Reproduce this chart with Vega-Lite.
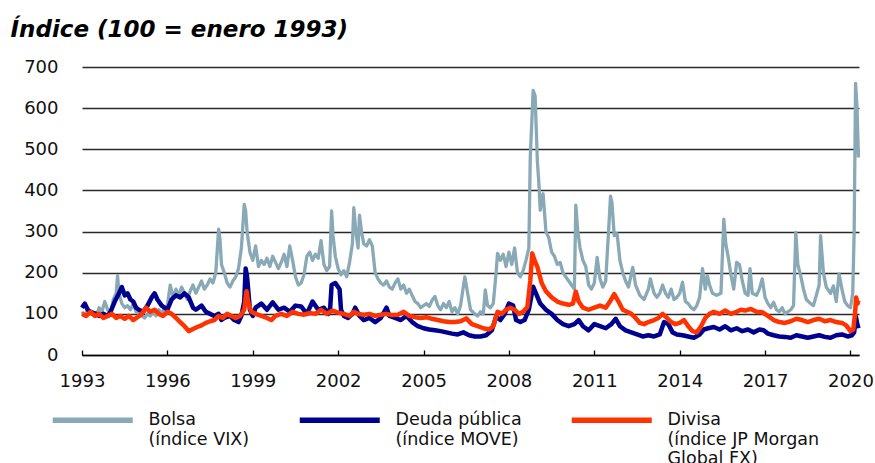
{
  "$schema": "https://vega.github.io/schema/vega-lite/v6.json",
  "autosize": {"type": "none"},
  "width": 777,
  "height": 288,
  "padding": {"left": 82, "top": 67, "right": 16, "bottom": 108},
  "background": "#ffffff",
  "config": {
    "view": {"stroke": null},
    "axis": {"labelFont": "DejaVu Sans", "labelFontSize": 18, "labelColor": "#111111"}
  },
  "datasets": {
    "d": [
      {"s":"Bolsa","t":1993.0,"v":105},{"s":"Bolsa","t":1993.1,"v":95},{"s":"Bolsa","t":1993.2,"v":110},{"s":"Bolsa","t":1993.35,"v":100},{"s":"Bolsa","t":1993.5,"v":95},{"s":"Bolsa","t":1993.6,"v":115},{"s":"Bolsa","t":1993.7,"v":105},{"s":"Bolsa","t":1993.8,"v":130},{"s":"Bolsa","t":1993.9,"v":110},
      {"s":"Bolsa","t":1994.0,"v":100},{"s":"Bolsa","t":1994.1,"v":135},{"s":"Bolsa","t":1994.2,"v":150},{"s":"Bolsa","t":1994.25,"v":193},{"s":"Bolsa","t":1994.3,"v":150},{"s":"Bolsa","t":1994.4,"v":125},{"s":"Bolsa","t":1994.5,"v":115},{"s":"Bolsa","t":1994.6,"v":120},{"s":"Bolsa","t":1994.7,"v":110},{"s":"Bolsa","t":1994.8,"v":125},{"s":"Bolsa","t":1994.9,"v":105},
      {"s":"Bolsa","t":1995.0,"v":100},{"s":"Bolsa","t":1995.1,"v":95},{"s":"Bolsa","t":1995.2,"v":90},{"s":"Bolsa","t":1995.3,"v":100},{"s":"Bolsa","t":1995.4,"v":95},{"s":"Bolsa","t":1995.5,"v":105},{"s":"Bolsa","t":1995.6,"v":95},{"s":"Bolsa","t":1995.7,"v":110},{"s":"Bolsa","t":1995.8,"v":100},{"s":"Bolsa","t":1995.9,"v":115},
      {"s":"Bolsa","t":1996.0,"v":120},{"s":"Bolsa","t":1996.1,"v":170},{"s":"Bolsa","t":1996.2,"v":140},{"s":"Bolsa","t":1996.3,"v":160},{"s":"Bolsa","t":1996.4,"v":145},{"s":"Bolsa","t":1996.5,"v":165},{"s":"Bolsa","t":1996.6,"v":150},{"s":"Bolsa","t":1996.7,"v":135},{"s":"Bolsa","t":1996.8,"v":155},{"s":"Bolsa","t":1996.9,"v":170},
      {"s":"Bolsa","t":1997.0,"v":150},{"s":"Bolsa","t":1997.1,"v":165},{"s":"Bolsa","t":1997.2,"v":180},{"s":"Bolsa","t":1997.3,"v":160},{"s":"Bolsa","t":1997.4,"v":170},{"s":"Bolsa","t":1997.5,"v":185},{"s":"Bolsa","t":1997.6,"v":175},{"s":"Bolsa","t":1997.7,"v":200},{"s":"Bolsa","t":1997.8,"v":306},{"s":"Bolsa","t":1997.85,"v":280},{"s":"Bolsa","t":1997.9,"v":220},
      {"s":"Bolsa","t":1998.0,"v":200},{"s":"Bolsa","t":1998.1,"v":175},{"s":"Bolsa","t":1998.2,"v":165},{"s":"Bolsa","t":1998.3,"v":180},{"s":"Bolsa","t":1998.4,"v":190},{"s":"Bolsa","t":1998.5,"v":210},{"s":"Bolsa","t":1998.6,"v":260},{"s":"Bolsa","t":1998.7,"v":366},{"s":"Bolsa","t":1998.75,"v":350},{"s":"Bolsa","t":1998.8,"v":300},{"s":"Bolsa","t":1998.9,"v":250},
      {"s":"Bolsa","t":1999.0,"v":230},{"s":"Bolsa","t":1999.1,"v":265},{"s":"Bolsa","t":1999.2,"v":215},{"s":"Bolsa","t":1999.3,"v":230},{"s":"Bolsa","t":1999.4,"v":220},{"s":"Bolsa","t":1999.5,"v":235},{"s":"Bolsa","t":1999.6,"v":215},{"s":"Bolsa","t":1999.7,"v":240},{"s":"Bolsa","t":1999.8,"v":225},{"s":"Bolsa","t":1999.9,"v":210},
      {"s":"Bolsa","t":2000.0,"v":225},{"s":"Bolsa","t":2000.1,"v":245},{"s":"Bolsa","t":2000.2,"v":215},{"s":"Bolsa","t":2000.3,"v":265},{"s":"Bolsa","t":2000.4,"v":230},{"s":"Bolsa","t":2000.5,"v":190},{"s":"Bolsa","t":2000.6,"v":170},{"s":"Bolsa","t":2000.7,"v":175},{"s":"Bolsa","t":2000.8,"v":195},{"s":"Bolsa","t":2000.9,"v":240},
      {"s":"Bolsa","t":2001.0,"v":250},{"s":"Bolsa","t":2001.1,"v":230},{"s":"Bolsa","t":2001.2,"v":245},{"s":"Bolsa","t":2001.3,"v":235},{"s":"Bolsa","t":2001.4,"v":278},{"s":"Bolsa","t":2001.5,"v":220},{"s":"Bolsa","t":2001.6,"v":205},{"s":"Bolsa","t":2001.7,"v":215},{"s":"Bolsa","t":2001.77,"v":350},{"s":"Bolsa","t":2001.82,"v":290},{"s":"Bolsa","t":2001.9,"v":240},
      {"s":"Bolsa","t":2002.0,"v":210},{"s":"Bolsa","t":2002.1,"v":195},{"s":"Bolsa","t":2002.2,"v":205},{"s":"Bolsa","t":2002.3,"v":190},{"s":"Bolsa","t":2002.4,"v":225},{"s":"Bolsa","t":2002.5,"v":270},{"s":"Bolsa","t":2002.55,"v":358},{"s":"Bolsa","t":2002.62,"v":300},{"s":"Bolsa","t":2002.7,"v":260},{"s":"Bolsa","t":2002.75,"v":340},{"s":"Bolsa","t":2002.82,"v":300},{"s":"Bolsa","t":2002.9,"v":270},
      {"s":"Bolsa","t":2003.0,"v":265},{"s":"Bolsa","t":2003.1,"v":280},{"s":"Bolsa","t":2003.2,"v":265},{"s":"Bolsa","t":2003.3,"v":200},{"s":"Bolsa","t":2003.4,"v":185},{"s":"Bolsa","t":2003.5,"v":175},{"s":"Bolsa","t":2003.6,"v":170},{"s":"Bolsa","t":2003.7,"v":180},{"s":"Bolsa","t":2003.8,"v":165},{"s":"Bolsa","t":2003.9,"v":160},
      {"s":"Bolsa","t":2004.0,"v":175},{"s":"Bolsa","t":2004.1,"v":185},{"s":"Bolsa","t":2004.2,"v":160},{"s":"Bolsa","t":2004.3,"v":170},{"s":"Bolsa","t":2004.4,"v":150},{"s":"Bolsa","t":2004.5,"v":160},{"s":"Bolsa","t":2004.6,"v":145},{"s":"Bolsa","t":2004.7,"v":130},{"s":"Bolsa","t":2004.8,"v":125},{"s":"Bolsa","t":2004.9,"v":115},
      {"s":"Bolsa","t":2005.0,"v":120},{"s":"Bolsa","t":2005.1,"v":125},{"s":"Bolsa","t":2005.2,"v":118},{"s":"Bolsa","t":2005.3,"v":133},{"s":"Bolsa","t":2005.4,"v":142},{"s":"Bolsa","t":2005.5,"v":120},{"s":"Bolsa","t":2005.6,"v":110},{"s":"Bolsa","t":2005.7,"v":125},{"s":"Bolsa","t":2005.8,"v":115},{"s":"Bolsa","t":2005.9,"v":130},
      {"s":"Bolsa","t":2006.0,"v":105},{"s":"Bolsa","t":2006.1,"v":115},{"s":"Bolsa","t":2006.2,"v":100},{"s":"Bolsa","t":2006.3,"v":120},{"s":"Bolsa","t":2006.45,"v":190},{"s":"Bolsa","t":2006.55,"v":150},{"s":"Bolsa","t":2006.65,"v":110},{"s":"Bolsa","t":2006.8,"v":100},{"s":"Bolsa","t":2006.9,"v":95},
      {"s":"Bolsa","t":2007.0,"v":105},{"s":"Bolsa","t":2007.1,"v":100},{"s":"Bolsa","t":2007.17,"v":158},{"s":"Bolsa","t":2007.25,"v":120},{"s":"Bolsa","t":2007.35,"v":115},{"s":"Bolsa","t":2007.45,"v":125},{"s":"Bolsa","t":2007.55,"v":200},{"s":"Bolsa","t":2007.6,"v":247},{"s":"Bolsa","t":2007.7,"v":230},{"s":"Bolsa","t":2007.8,"v":245},{"s":"Bolsa","t":2007.9,"v":215},
      {"s":"Bolsa","t":2008.0,"v":250},{"s":"Bolsa","t":2008.1,"v":220},{"s":"Bolsa","t":2008.2,"v":260},{"s":"Bolsa","t":2008.3,"v":200},{"s":"Bolsa","t":2008.4,"v":190},{"s":"Bolsa","t":2008.5,"v":205},{"s":"Bolsa","t":2008.6,"v":230},{"s":"Bolsa","t":2008.7,"v":260},{"s":"Bolsa","t":2008.75,"v":480},{"s":"Bolsa","t":2008.8,"v":560},{"s":"Bolsa","t":2008.85,"v":643},{"s":"Bolsa","t":2008.92,"v":630},
      {"s":"Bolsa","t":2009.0,"v":470},{"s":"Bolsa","t":2009.05,"v":420},{"s":"Bolsa","t":2009.1,"v":352},{"s":"Bolsa","t":2009.15,"v":380},{"s":"Bolsa","t":2009.2,"v":392},{"s":"Bolsa","t":2009.3,"v":300},{"s":"Bolsa","t":2009.4,"v":285},{"s":"Bolsa","t":2009.5,"v":250},{"s":"Bolsa","t":2009.6,"v":240},{"s":"Bolsa","t":2009.7,"v":220},{"s":"Bolsa","t":2009.8,"v":225},{"s":"Bolsa","t":2009.9,"v":200},
      {"s":"Bolsa","t":2010.0,"v":190},{"s":"Bolsa","t":2010.1,"v":180},{"s":"Bolsa","t":2010.2,"v":170},{"s":"Bolsa","t":2010.3,"v":160},{"s":"Bolsa","t":2010.35,"v":364},{"s":"Bolsa","t":2010.42,"v":300},{"s":"Bolsa","t":2010.5,"v":260},{"s":"Bolsa","t":2010.6,"v":230},{"s":"Bolsa","t":2010.7,"v":215},{"s":"Bolsa","t":2010.8,"v":170},{"s":"Bolsa","t":2010.9,"v":160},
      {"s":"Bolsa","t":2011.0,"v":175},{"s":"Bolsa","t":2011.1,"v":237},{"s":"Bolsa","t":2011.2,"v":185},{"s":"Bolsa","t":2011.3,"v":165},{"s":"Bolsa","t":2011.4,"v":180},{"s":"Bolsa","t":2011.5,"v":300},{"s":"Bolsa","t":2011.57,"v":386},{"s":"Bolsa","t":2011.62,"v":370},{"s":"Bolsa","t":2011.7,"v":290},{"s":"Bolsa","t":2011.8,"v":295},{"s":"Bolsa","t":2011.9,"v":230},
      {"s":"Bolsa","t":2012.0,"v":200},{"s":"Bolsa","t":2012.1,"v":180},{"s":"Bolsa","t":2012.2,"v":165},{"s":"Bolsa","t":2012.35,"v":213},{"s":"Bolsa","t":2012.45,"v":170},{"s":"Bolsa","t":2012.6,"v":145},{"s":"Bolsa","t":2012.75,"v":135},{"s":"Bolsa","t":2012.9,"v":160},{"s":"Bolsa","t":2012.97,"v":185},
      {"s":"Bolsa","t":2013.1,"v":150},{"s":"Bolsa","t":2013.2,"v":140},{"s":"Bolsa","t":2013.3,"v":150},{"s":"Bolsa","t":2013.4,"v":170},{"s":"Bolsa","t":2013.5,"v":150},{"s":"Bolsa","t":2013.6,"v":140},{"s":"Bolsa","t":2013.7,"v":160},{"s":"Bolsa","t":2013.8,"v":135},{"s":"Bolsa","t":2013.9,"v":140},
      {"s":"Bolsa","t":2014.0,"v":150},{"s":"Bolsa","t":2014.1,"v":177},{"s":"Bolsa","t":2014.2,"v":130},{"s":"Bolsa","t":2014.3,"v":125},{"s":"Bolsa","t":2014.4,"v":115},{"s":"Bolsa","t":2014.5,"v":110},{"s":"Bolsa","t":2014.6,"v":120},{"s":"Bolsa","t":2014.7,"v":140},{"s":"Bolsa","t":2014.8,"v":210},{"s":"Bolsa","t":2014.9,"v":160},{"s":"Bolsa","t":2014.97,"v":193},
      {"s":"Bolsa","t":2015.05,"v":170},{"s":"Bolsa","t":2015.15,"v":150},{"s":"Bolsa","t":2015.3,"v":145},{"s":"Bolsa","t":2015.45,"v":150},{"s":"Bolsa","t":2015.55,"v":330},{"s":"Bolsa","t":2015.62,"v":270},{"s":"Bolsa","t":2015.7,"v":240},{"s":"Bolsa","t":2015.8,"v":195},{"s":"Bolsa","t":2015.9,"v":160},
      {"s":"Bolsa","t":2016.0,"v":225},{"s":"Bolsa","t":2016.1,"v":220},{"s":"Bolsa","t":2016.2,"v":180},{"s":"Bolsa","t":2016.3,"v":150},{"s":"Bolsa","t":2016.4,"v":145},{"s":"Bolsa","t":2016.47,"v":210},{"s":"Bolsa","t":2016.55,"v":150},{"s":"Bolsa","t":2016.7,"v":145},{"s":"Bolsa","t":2016.8,"v":160},{"s":"Bolsa","t":2016.9,"v":185},
      {"s":"Bolsa","t":2017.0,"v":140},{"s":"Bolsa","t":2017.1,"v":125},{"s":"Bolsa","t":2017.2,"v":115},{"s":"Bolsa","t":2017.3,"v":128},{"s":"Bolsa","t":2017.4,"v":110},{"s":"Bolsa","t":2017.5,"v":105},{"s":"Bolsa","t":2017.6,"v":115},{"s":"Bolsa","t":2017.7,"v":100},{"s":"Bolsa","t":2017.8,"v":105},{"s":"Bolsa","t":2017.9,"v":110},
      {"s":"Bolsa","t":2018.0,"v":120},{"s":"Bolsa","t":2018.08,"v":298},{"s":"Bolsa","t":2018.15,"v":220},{"s":"Bolsa","t":2018.25,"v":193},{"s":"Bolsa","t":2018.35,"v":160},{"s":"Bolsa","t":2018.45,"v":135},{"s":"Bolsa","t":2018.6,"v":125},{"s":"Bolsa","t":2018.7,"v":120},{"s":"Bolsa","t":2018.8,"v":145},{"s":"Bolsa","t":2018.9,"v":170},{"s":"Bolsa","t":2018.95,"v":290},
      {"s":"Bolsa","t":2019.05,"v":200},{"s":"Bolsa","t":2019.15,"v":165},{"s":"Bolsa","t":2019.3,"v":150},{"s":"Bolsa","t":2019.4,"v":168},{"s":"Bolsa","t":2019.5,"v":130},{"s":"Bolsa","t":2019.6,"v":197},{"s":"Bolsa","t":2019.7,"v":160},{"s":"Bolsa","t":2019.8,"v":130},{"s":"Bolsa","t":2019.9,"v":120},
      {"s":"Bolsa","t":2020.0,"v":115},{"s":"Bolsa","t":2020.08,"v":150},{"s":"Bolsa","t":2020.13,"v":300},{"s":"Bolsa","t":2020.18,"v":660},{"s":"Bolsa","t":2020.23,"v":600},{"s":"Bolsa","t":2020.28,"v":480},

      {"s":"Deuda pública","t":1993.0,"v":115},{"s":"Deuda pública","t":1993.1,"v":125},{"s":"Deuda pública","t":1993.2,"v":110},{"s":"Deuda pública","t":1993.3,"v":105},{"s":"Deuda pública","t":1993.5,"v":100},{"s":"Deuda pública","t":1993.6,"v":95},{"s":"Deuda pública","t":1993.75,"v":100},{"s":"Deuda pública","t":1993.9,"v":95},
      {"s":"Deuda pública","t":1994.0,"v":105},{"s":"Deuda pública","t":1994.15,"v":130},{"s":"Deuda pública","t":1994.3,"v":150},{"s":"Deuda pública","t":1994.4,"v":165},{"s":"Deuda pública","t":1994.5,"v":145},{"s":"Deuda pública","t":1994.6,"v":150},{"s":"Deuda pública","t":1994.7,"v":135},{"s":"Deuda pública","t":1994.8,"v":130},{"s":"Deuda pública","t":1994.9,"v":115},
      {"s":"Deuda pública","t":1995.0,"v":110},{"s":"Deuda pública","t":1995.15,"v":105},{"s":"Deuda pública","t":1995.3,"v":120},{"s":"Deuda pública","t":1995.45,"v":140},{"s":"Deuda pública","t":1995.55,"v":150},{"s":"Deuda pública","t":1995.65,"v":135},{"s":"Deuda pública","t":1995.8,"v":120},{"s":"Deuda pública","t":1995.9,"v":115},
      {"s":"Deuda pública","t":1996.0,"v":110},{"s":"Deuda pública","t":1996.15,"v":135},{"s":"Deuda pública","t":1996.3,"v":145},{"s":"Deuda pública","t":1996.45,"v":140},{"s":"Deuda pública","t":1996.6,"v":150},{"s":"Deuda pública","t":1996.75,"v":140},{"s":"Deuda pública","t":1996.9,"v":115},
      {"s":"Deuda pública","t":1997.0,"v":110},{"s":"Deuda pública","t":1997.2,"v":120},{"s":"Deuda pública","t":1997.35,"v":105},{"s":"Deuda pública","t":1997.5,"v":100},{"s":"Deuda pública","t":1997.65,"v":95},{"s":"Deuda pública","t":1997.8,"v":100},{"s":"Deuda pública","t":1997.9,"v":85},
      {"s":"Deuda pública","t":1998.0,"v":90},{"s":"Deuda pública","t":1998.2,"v":95},{"s":"Deuda pública","t":1998.35,"v":85},{"s":"Deuda pública","t":1998.5,"v":80},{"s":"Deuda pública","t":1998.6,"v":95},{"s":"Deuda pública","t":1998.7,"v":130},{"s":"Deuda pública","t":1998.75,"v":210},{"s":"Deuda pública","t":1998.8,"v":190},{"s":"Deuda pública","t":1998.9,"v":110},
      {"s":"Deuda pública","t":1999.0,"v":95},{"s":"Deuda pública","t":1999.1,"v":115},{"s":"Deuda pública","t":1999.3,"v":125},{"s":"Deuda pública","t":1999.5,"v":110},{"s":"Deuda pública","t":1999.7,"v":128},{"s":"Deuda pública","t":1999.9,"v":110},
      {"s":"Deuda pública","t":2000.1,"v":115},{"s":"Deuda pública","t":2000.3,"v":105},{"s":"Deuda pública","t":2000.5,"v":120},{"s":"Deuda pública","t":2000.7,"v":118},{"s":"Deuda pública","t":2000.9,"v":100},
      {"s":"Deuda pública","t":2001.1,"v":130},{"s":"Deuda pública","t":2001.3,"v":110},{"s":"Deuda pública","t":2001.5,"v":115},{"s":"Deuda pública","t":2001.65,"v":100},{"s":"Deuda pública","t":2001.72,"v":115},{"s":"Deuda pública","t":2001.77,"v":170},{"s":"Deuda pública","t":2001.9,"v":175},
      {"s":"Deuda pública","t":2002.05,"v":160},{"s":"Deuda pública","t":2002.1,"v":110},{"s":"Deuda pública","t":2002.2,"v":95},{"s":"Deuda pública","t":2002.35,"v":90},{"s":"Deuda pública","t":2002.5,"v":100},{"s":"Deuda pública","t":2002.6,"v":115},{"s":"Deuda pública","t":2002.75,"v":95},{"s":"Deuda pública","t":2002.9,"v":85},
      {"s":"Deuda pública","t":2003.1,"v":90},{"s":"Deuda pública","t":2003.3,"v":80},{"s":"Deuda pública","t":2003.5,"v":90},{"s":"Deuda pública","t":2003.7,"v":115},{"s":"Deuda pública","t":2003.8,"v":95},
      {"s":"Deuda pública","t":2004.0,"v":90},{"s":"Deuda pública","t":2004.2,"v":85},{"s":"Deuda pública","t":2004.4,"v":95},{"s":"Deuda pública","t":2004.6,"v":80},{"s":"Deuda pública","t":2004.8,"v":70},
      {"s":"Deuda pública","t":2005.0,"v":65},{"s":"Deuda pública","t":2005.2,"v":62},{"s":"Deuda pública","t":2005.4,"v":60},{"s":"Deuda pública","t":2005.6,"v":58},{"s":"Deuda pública","t":2005.8,"v":55},
      {"s":"Deuda pública","t":2006.0,"v":52},{"s":"Deuda pública","t":2006.2,"v":50},{"s":"Deuda pública","t":2006.4,"v":55},{"s":"Deuda pública","t":2006.6,"v":48},{"s":"Deuda pública","t":2006.8,"v":45},
      {"s":"Deuda pública","t":2007.0,"v":45},{"s":"Deuda pública","t":2007.2,"v":48},{"s":"Deuda pública","t":2007.4,"v":60},{"s":"Deuda pública","t":2007.55,"v":93},{"s":"Deuda pública","t":2007.7,"v":85},{"s":"Deuda pública","t":2007.85,"v":100},
      {"s":"Deuda pública","t":2008.0,"v":125},{"s":"Deuda pública","t":2008.15,"v":120},{"s":"Deuda pública","t":2008.25,"v":85},{"s":"Deuda pública","t":2008.4,"v":80},{"s":"Deuda pública","t":2008.55,"v":85},{"s":"Deuda pública","t":2008.7,"v":110},{"s":"Deuda pública","t":2008.85,"v":166},{"s":"Deuda pública","t":2008.95,"v":150},
      {"s":"Deuda pública","t":2009.1,"v":125},{"s":"Deuda pública","t":2009.3,"v":110},{"s":"Deuda pública","t":2009.5,"v":100},{"s":"Deuda pública","t":2009.7,"v":85},{"s":"Deuda pública","t":2009.9,"v":75},
      {"s":"Deuda pública","t":2010.1,"v":70},{"s":"Deuda pública","t":2010.3,"v":75},{"s":"Deuda pública","t":2010.45,"v":85},{"s":"Deuda pública","t":2010.6,"v":70},{"s":"Deuda pública","t":2010.8,"v":60},
      {"s":"Deuda pública","t":2011.0,"v":75},{"s":"Deuda pública","t":2011.2,"v":70},{"s":"Deuda pública","t":2011.4,"v":65},{"s":"Deuda pública","t":2011.6,"v":75},{"s":"Deuda pública","t":2011.75,"v":88},{"s":"Deuda pública","t":2011.9,"v":70},
      {"s":"Deuda pública","t":2012.1,"v":60},{"s":"Deuda pública","t":2012.3,"v":55},{"s":"Deuda pública","t":2012.5,"v":50},{"s":"Deuda pública","t":2012.7,"v":45},{"s":"Deuda pública","t":2012.9,"v":48},
      {"s":"Deuda pública","t":2013.1,"v":45},{"s":"Deuda pública","t":2013.3,"v":50},{"s":"Deuda pública","t":2013.45,"v":80},{"s":"Deuda pública","t":2013.6,"v":75},{"s":"Deuda pública","t":2013.75,"v":55},{"s":"Deuda pública","t":2013.9,"v":50},
      {"s":"Deuda pública","t":2014.1,"v":48},{"s":"Deuda pública","t":2014.3,"v":45},{"s":"Deuda pública","t":2014.5,"v":42},{"s":"Deuda pública","t":2014.7,"v":50},{"s":"Deuda pública","t":2014.85,"v":62},
      {"s":"Deuda pública","t":2015.0,"v":65},{"s":"Deuda pública","t":2015.2,"v":68},{"s":"Deuda pública","t":2015.4,"v":62},{"s":"Deuda pública","t":2015.6,"v":70},{"s":"Deuda pública","t":2015.8,"v":60},
      {"s":"Deuda pública","t":2016.0,"v":65},{"s":"Deuda pública","t":2016.2,"v":58},{"s":"Deuda pública","t":2016.4,"v":62},{"s":"Deuda pública","t":2016.6,"v":55},{"s":"Deuda pública","t":2016.8,"v":62},{"s":"Deuda pública","t":2016.95,"v":60},
      {"s":"Deuda pública","t":2017.1,"v":52},{"s":"Deuda pública","t":2017.3,"v":48},{"s":"Deuda pública","t":2017.5,"v":45},{"s":"Deuda pública","t":2017.7,"v":44},{"s":"Deuda pública","t":2017.9,"v":42},
      {"s":"Deuda pública","t":2018.1,"v":48},{"s":"Deuda pública","t":2018.3,"v":45},{"s":"Deuda pública","t":2018.5,"v":42},{"s":"Deuda pública","t":2018.7,"v":45},{"s":"Deuda pública","t":2018.9,"v":48},
      {"s":"Deuda pública","t":2019.1,"v":44},{"s":"Deuda pública","t":2019.3,"v":42},{"s":"Deuda pública","t":2019.5,"v":48},{"s":"Deuda pública","t":2019.7,"v":50},{"s":"Deuda pública","t":2019.9,"v":45},
      {"s":"Deuda pública","t":2020.05,"v":48},{"s":"Deuda pública","t":2020.13,"v":55},{"s":"Deuda pública","t":2020.19,"v":93},{"s":"Deuda pública","t":2020.24,"v":75},{"s":"Deuda pública","t":2020.28,"v":65},

      {"s":"Divisa","t":1993.0,"v":100},{"s":"Divisa","t":1993.15,"v":95},{"s":"Divisa","t":1993.3,"v":105},{"s":"Divisa","t":1993.45,"v":95},{"s":"Divisa","t":1993.6,"v":100},{"s":"Divisa","t":1993.75,"v":90},{"s":"Divisa","t":1993.9,"v":95},
      {"s":"Divisa","t":1994.05,"v":100},{"s":"Divisa","t":1994.2,"v":90},{"s":"Divisa","t":1994.35,"v":95},{"s":"Divisa","t":1994.5,"v":88},{"s":"Divisa","t":1994.65,"v":95},{"s":"Divisa","t":1994.8,"v":85},{"s":"Divisa","t":1994.95,"v":92},
      {"s":"Divisa","t":1995.1,"v":100},{"s":"Divisa","t":1995.25,"v":115},{"s":"Divisa","t":1995.4,"v":105},{"s":"Divisa","t":1995.55,"v":110},{"s":"Divisa","t":1995.7,"v":100},{"s":"Divisa","t":1995.85,"v":95},
      {"s":"Divisa","t":1996.0,"v":105},{"s":"Divisa","t":1996.15,"v":100},{"s":"Divisa","t":1996.3,"v":90},{"s":"Divisa","t":1996.45,"v":80},{"s":"Divisa","t":1996.6,"v":70},{"s":"Divisa","t":1996.75,"v":58},{"s":"Divisa","t":1996.9,"v":63},
      {"s":"Divisa","t":1997.05,"v":68},{"s":"Divisa","t":1997.2,"v":72},{"s":"Divisa","t":1997.35,"v":78},{"s":"Divisa","t":1997.5,"v":82},{"s":"Divisa","t":1997.65,"v":85},{"s":"Divisa","t":1997.8,"v":95},{"s":"Divisa","t":1997.95,"v":90},
      {"s":"Divisa","t":1998.1,"v":100},{"s":"Divisa","t":1998.25,"v":95},{"s":"Divisa","t":1998.4,"v":90},{"s":"Divisa","t":1998.55,"v":95},{"s":"Divisa","t":1998.7,"v":110},{"s":"Divisa","t":1998.78,"v":155},{"s":"Divisa","t":1998.85,"v":125},{"s":"Divisa","t":1998.95,"v":105},
      {"s":"Divisa","t":1999.1,"v":100},{"s":"Divisa","t":1999.3,"v":95},{"s":"Divisa","t":1999.5,"v":90},{"s":"Divisa","t":1999.65,"v":85},{"s":"Divisa","t":1999.8,"v":95},
      {"s":"Divisa","t":2000.0,"v":100},{"s":"Divisa","t":2000.2,"v":95},{"s":"Divisa","t":2000.4,"v":105},{"s":"Divisa","t":2000.6,"v":100},{"s":"Divisa","t":2000.8,"v":98},
      {"s":"Divisa","t":2001.0,"v":102},{"s":"Divisa","t":2001.2,"v":100},{"s":"Divisa","t":2001.4,"v":110},{"s":"Divisa","t":2001.6,"v":100},{"s":"Divisa","t":2001.8,"v":108},
      {"s":"Divisa","t":2002.0,"v":103},{"s":"Divisa","t":2002.2,"v":100},{"s":"Divisa","t":2002.4,"v":95},{"s":"Divisa","t":2002.55,"v":105},{"s":"Divisa","t":2002.7,"v":100},{"s":"Divisa","t":2002.9,"v":98},
      {"s":"Divisa","t":2003.1,"v":100},{"s":"Divisa","t":2003.3,"v":95},{"s":"Divisa","t":2003.5,"v":98},{"s":"Divisa","t":2003.7,"v":100},{"s":"Divisa","t":2003.9,"v":97},
      {"s":"Divisa","t":2004.1,"v":98},{"s":"Divisa","t":2004.3,"v":105},{"s":"Divisa","t":2004.5,"v":95},{"s":"Divisa","t":2004.7,"v":92},{"s":"Divisa","t":2004.9,"v":90},
      {"s":"Divisa","t":2005.1,"v":92},{"s":"Divisa","t":2005.3,"v":88},{"s":"Divisa","t":2005.5,"v":85},{"s":"Divisa","t":2005.7,"v":82},{"s":"Divisa","t":2005.9,"v":80},
      {"s":"Divisa","t":2006.1,"v":80},{"s":"Divisa","t":2006.3,"v":82},{"s":"Divisa","t":2006.5,"v":89},{"s":"Divisa","t":2006.7,"v":75},{"s":"Divisa","t":2006.9,"v":70},
      {"s":"Divisa","t":2007.1,"v":65},{"s":"Divisa","t":2007.3,"v":62},{"s":"Divisa","t":2007.45,"v":70},{"s":"Divisa","t":2007.6,"v":105},{"s":"Divisa","t":2007.75,"v":100},{"s":"Divisa","t":2007.9,"v":110},
      {"s":"Divisa","t":2008.05,"v":115},{"s":"Divisa","t":2008.2,"v":110},{"s":"Divisa","t":2008.35,"v":100},{"s":"Divisa","t":2008.5,"v":105},{"s":"Divisa","t":2008.65,"v":117},{"s":"Divisa","t":2008.75,"v":180},{"s":"Divisa","t":2008.82,"v":247},{"s":"Divisa","t":2008.9,"v":230},
      {"s":"Divisa","t":2009.0,"v":214},{"s":"Divisa","t":2009.15,"v":175},{"s":"Divisa","t":2009.3,"v":155},{"s":"Divisa","t":2009.5,"v":140},{"s":"Divisa","t":2009.7,"v":130},{"s":"Divisa","t":2009.9,"v":125},
      {"s":"Divisa","t":2010.1,"v":122},{"s":"Divisa","t":2010.25,"v":125},{"s":"Divisa","t":2010.35,"v":154},{"s":"Divisa","t":2010.45,"v":130},{"s":"Divisa","t":2010.6,"v":115},{"s":"Divisa","t":2010.8,"v":110},
      {"s":"Divisa","t":2011.0,"v":115},{"s":"Divisa","t":2011.2,"v":120},{"s":"Divisa","t":2011.4,"v":115},{"s":"Divisa","t":2011.55,"v":130},{"s":"Divisa","t":2011.7,"v":148},{"s":"Divisa","t":2011.85,"v":130},
      {"s":"Divisa","t":2012.0,"v":110},{"s":"Divisa","t":2012.15,"v":105},{"s":"Divisa","t":2012.3,"v":100},{"s":"Divisa","t":2012.45,"v":90},{"s":"Divisa","t":2012.6,"v":78},{"s":"Divisa","t":2012.75,"v":75},{"s":"Divisa","t":2012.9,"v":80},
      {"s":"Divisa","t":2013.1,"v":85},{"s":"Divisa","t":2013.25,"v":90},{"s":"Divisa","t":2013.4,"v":100},{"s":"Divisa","t":2013.55,"v":90},{"s":"Divisa","t":2013.7,"v":80},{"s":"Divisa","t":2013.85,"v":75},
      {"s":"Divisa","t":2014.0,"v":78},{"s":"Divisa","t":2014.15,"v":85},{"s":"Divisa","t":2014.3,"v":70},{"s":"Divisa","t":2014.45,"v":58},{"s":"Divisa","t":2014.6,"v":55},{"s":"Divisa","t":2014.75,"v":70},{"s":"Divisa","t":2014.9,"v":90},
      {"s":"Divisa","t":2015.05,"v":100},{"s":"Divisa","t":2015.2,"v":105},{"s":"Divisa","t":2015.4,"v":100},{"s":"Divisa","t":2015.6,"v":108},{"s":"Divisa","t":2015.8,"v":100},
      {"s":"Divisa","t":2016.0,"v":105},{"s":"Divisa","t":2016.15,"v":110},{"s":"Divisa","t":2016.3,"v":108},{"s":"Divisa","t":2016.5,"v":112},{"s":"Divisa","t":2016.7,"v":105},{"s":"Divisa","t":2016.9,"v":104},
      {"s":"Divisa","t":2017.1,"v":95},{"s":"Divisa","t":2017.3,"v":85},{"s":"Divisa","t":2017.5,"v":80},{"s":"Divisa","t":2017.7,"v":78},{"s":"Divisa","t":2017.9,"v":82},
      {"s":"Divisa","t":2018.1,"v":88},{"s":"Divisa","t":2018.3,"v":85},{"s":"Divisa","t":2018.5,"v":80},{"s":"Divisa","t":2018.7,"v":85},{"s":"Divisa","t":2018.9,"v":88},
      {"s":"Divisa","t":2019.1,"v":82},{"s":"Divisa","t":2019.3,"v":85},{"s":"Divisa","t":2019.5,"v":80},{"s":"Divisa","t":2019.7,"v":78},{"s":"Divisa","t":2019.85,"v":72},
      {"s":"Divisa","t":2020.0,"v":58},{"s":"Divisa","t":2020.1,"v":62},{"s":"Divisa","t":2020.16,"v":100},{"s":"Divisa","t":2020.2,"v":140},{"s":"Divisa","t":2020.25,"v":125},{"s":"Divisa","t":2020.28,"v":132}
    ]
  },
  "data": {"name": "d"},
  "encoding": {
    "x": {
      "field": "t", "type": "quantitative",
      "scale": {"domain": [1993, 2020.3], "nice": false, "zero": false},
      "axis": {
        "title": null, "values": [1993,1996,1999,2002,2005,2008,2011,2014,2017,2020], "format": "d",
        "grid": false, "domainColor": "#000000", "domainWidth": 1.5,
        "tickColor": "#000000", "tickWidth": 1.3, "tickSize": -5, "labelPadding": 22, "labelFlush": false
      }
    },
    "y": {
      "field": "v", "type": "quantitative",
      "scale": {"domain": [0, 700], "nice": false},
      "axis": {
        "values": [0,100,200,300,400,500,600,700], "domain": false, "ticks": false, "labelPadding": 24,
        "grid": true, "gridColor": "#2a2a2a", "gridWidth": 1.4,
        "title": "Índice (100 = enero 1993)", "titleAngle": 0, "titleX": -72, "titleY": -31,
        "titleAlign": "left", "titleBaseline": "alphabetic", "titleFont": "DejaVu Sans",
        "titleFontSize": 23, "titleFontStyle": "italic", "titleFontWeight": "bold", "titleColor": "#000000"
      }
    },
    "color": {
      "field": "s", "type": "nominal",
      "scale": {"domain": ["Bolsa", "Deuda pública", "Divisa"], "range": ["#88a9b5", "#00008f", "#ff3300"]},
      "legend": {
        "title": null, "orient": "none", "legendX": 2, "legendY": 335, "direction": "horizontal", "columns": 3,
        "symbolType": "M-8,1.8H8", "symbolSize": 100, "symbolStrokeWidth": 5.5,
        "labelFont": "DejaVu Sans", "labelFontSize": 17.5, "labelColor": "#111111", "labelOffset": 47,
        "columnPadding": 38, "labelLimit": 400, "labelBaseline": "top",
        "labelExpr": "datum.label == 'Bolsa' ? ['Bolsa', '(índice VIX)', ' '] : datum.label == 'Deuda pública' ? ['Deuda pública', '(índice MOVE)', ' '] : ['Divisa', '(índice JP Morgan', ' Global FX)']"
      }
    }
  },
  "layer": [
    {"transform": [{"filter": "datum.s == 'Bolsa'"}], "mark": {"type": "line", "strokeWidth": 3.3, "strokeJoin": "round"}},
    {"transform": [{"filter": "datum.s == 'Deuda pública'"}], "mark": {"type": "line", "strokeWidth": 4.5, "strokeJoin": "round"}},
    {"transform": [{"filter": "datum.s == 'Divisa'"}], "mark": {"type": "line", "strokeWidth": 4.5, "strokeJoin": "round"}}
  ]
}
